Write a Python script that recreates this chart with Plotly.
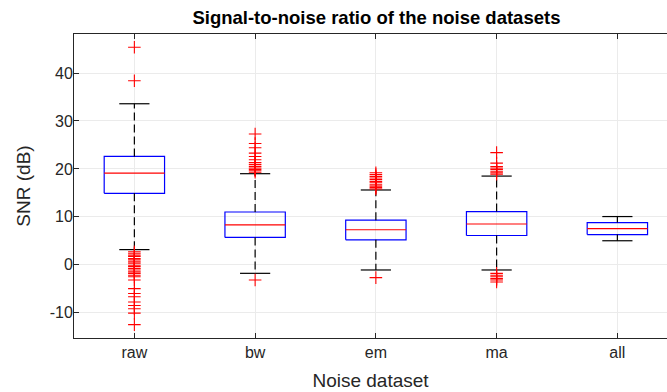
import plotly.graph_objects as go

# ---------------- data ----------------
categories = ["raw", "bw", "em", "ma", "all"]
q1 = [14.9, 5.7, 5.2, 6.1, 6.3]
median = [19.1, 8.3, 7.3, 8.5, 7.55]
q3 = [22.6, 11.0, 9.3, 11.1, 8.8]
lower_whisker = [3.15, -1.8, -1.1, -1.1, 5.0]
upper_whisker = [33.6, 19.0, 15.6, 18.5, 10.05]

outliers_raw = [45.4, 38.4, 2.7, 2.4, 2.0, 1.7, 1.3, 1.0, 0.6, 0.3, -0.1, -0.4,
                -0.8, -1.1, -1.5, -1.8, -2.2, -2.5, -3.2, -5.0, -6.0, -6.7,
                -7.8, -8.5, -9.2, -10.1, -12.5]
outliers_bw = [27.3, 25.3, 24.4, 23.3, 22.6, 21.9, 21.3, 20.9, 20.5, 20.2,
               19.9, 19.6, 19.3, -3.2]
outliers_em = [19.2, 18.8, 18.4, 18.1, 17.8, 17.4, 17.1, 16.7, 16.4, 16.1,
               15.8, -2.7]
outliers_ma = [23.4, 21.2, 20.5, 20.2, 19.9, 19.5, 19.2, 18.9,
               -1.8, -2.2, -2.5, -2.9, -3.2, -3.6]
outliers_all = []
outliers = [outliers_raw, outliers_bw, outliers_em, outliers_ma, outliers_all]

y_ticks = [-10, 0, 10, 20, 30, 40]
y_tick_labels = ["-10", "0", "10", "20", "30", "40"]

# ---------------- style ----------------
BOX_HALF = 0.25
CAP_HALF = 0.125
FONT = "Liberation Sans, Arial, sans-serif"
AX_COL = "#262626"
GRID_COL = "#ebebeb"

fig = go.Figure()

for i, name in enumerate(categories):
    x = i + 1
    # box
    fig.add_trace(go.Scatter(
        x=[x - BOX_HALF, x + BOX_HALF, x + BOX_HALF, x - BOX_HALF, x - BOX_HALF],
        y=[q1[i], q1[i], q3[i], q3[i], q1[i]],
        mode="lines", line=dict(color="#0000ff", width=1.2),
        hoverinfo="skip", showlegend=False))
    # median
    fig.add_trace(go.Scatter(
        x=[x - BOX_HALF, x + BOX_HALF], y=[median[i], median[i]],
        mode="lines", line=dict(color="#ff0000", width=1.2),
        hoverinfo="skip", showlegend=False))
    # whiskers (dashed)
    fig.add_trace(go.Scatter(
        x=[x, x, None, x, x],
        y=[q3[i], upper_whisker[i], None, q1[i], lower_whisker[i]],
        mode="lines", line=dict(color="#000000", width=1.2, dash="8px,4px"),
        hoverinfo="skip", showlegend=False, connectgaps=False))
    # caps
    fig.add_trace(go.Scatter(
        x=[x - CAP_HALF, x + CAP_HALF, None, x - CAP_HALF, x + CAP_HALF],
        y=[upper_whisker[i], upper_whisker[i], None, lower_whisker[i], lower_whisker[i]],
        mode="lines", line=dict(color="#000000", width=1.2),
        hoverinfo="skip", showlegend=False, connectgaps=False))
    # outliers
    if outliers[i]:
        fig.add_trace(go.Scatter(
            x=[x] * len(outliers[i]), y=outliers[i], mode="markers",
            marker=dict(symbol="cross-thin", size=9,
                        line=dict(color="#ff0000", width=1.1)),
            showlegend=False, name=name))

fig.update_layout(
    width=667, height=392,
    margin=dict(l=74, r=0, t=34, b=54),
    paper_bgcolor="white", plot_bgcolor="white",
    font=dict(family=FONT, size=16, color="#262626"),
    title=dict(text="<b>Signal-to-noise ratio of the noise datasets</b>",
               font=dict(family=FONT, size=18.5, color="#000000"),
               xref="paper", x=0.51, xanchor="center",
               yref="container", y=1 - 18 / 392, yanchor="middle"),
    xaxis=dict(
        range=[0.5, 5.411], tickvals=[1, 2, 3, 4, 5], ticktext=categories,
        showgrid=True, gridcolor=GRID_COL, gridwidth=1, zeroline=False,
        showline=True, linecolor=AX_COL, linewidth=1,
        ticks="inside", ticklen=5, tickcolor=AX_COL,
        tickfont=dict(size=16, color="#262626"),
        title=dict(text="Noise dataset", font=dict(size=19, color="#262626"),
                   standoff=13),
    ),
    xaxis2=dict(
        overlaying="x", matches="x", side="top", range=[0.5, 5.411],
        tickvals=[1, 2, 3, 4, 5], showticklabels=False, showgrid=False,
        zeroline=False, showline=True, linecolor=AX_COL, linewidth=1,
        ticks="inside", ticklen=5, tickcolor=AX_COL,
    ),
    yaxis=dict(
        range=[-15.3, 48.16], tickvals=y_ticks, ticktext=y_tick_labels,
        showgrid=True, gridcolor=GRID_COL, gridwidth=1, zeroline=False,
        showline=True, linecolor=AX_COL, linewidth=1,
        ticks="inside", ticklen=5, tickcolor=AX_COL,
        ticklabelstandoff=-3,
        tickfont=dict(size=16, color="#262626"),
        title=dict(text="SNR (dB)", font=dict(size=19, color="#262626"),
                   standoff=14),
    ),
)
# invisible point on the top axis so it is drawn
fig.add_trace(go.Scatter(x=[1], y=[0], xaxis="x2", mode="markers",
                         marker=dict(opacity=0), hoverinfo="skip",
                         showlegend=False))

fig.write_html("out.html")
